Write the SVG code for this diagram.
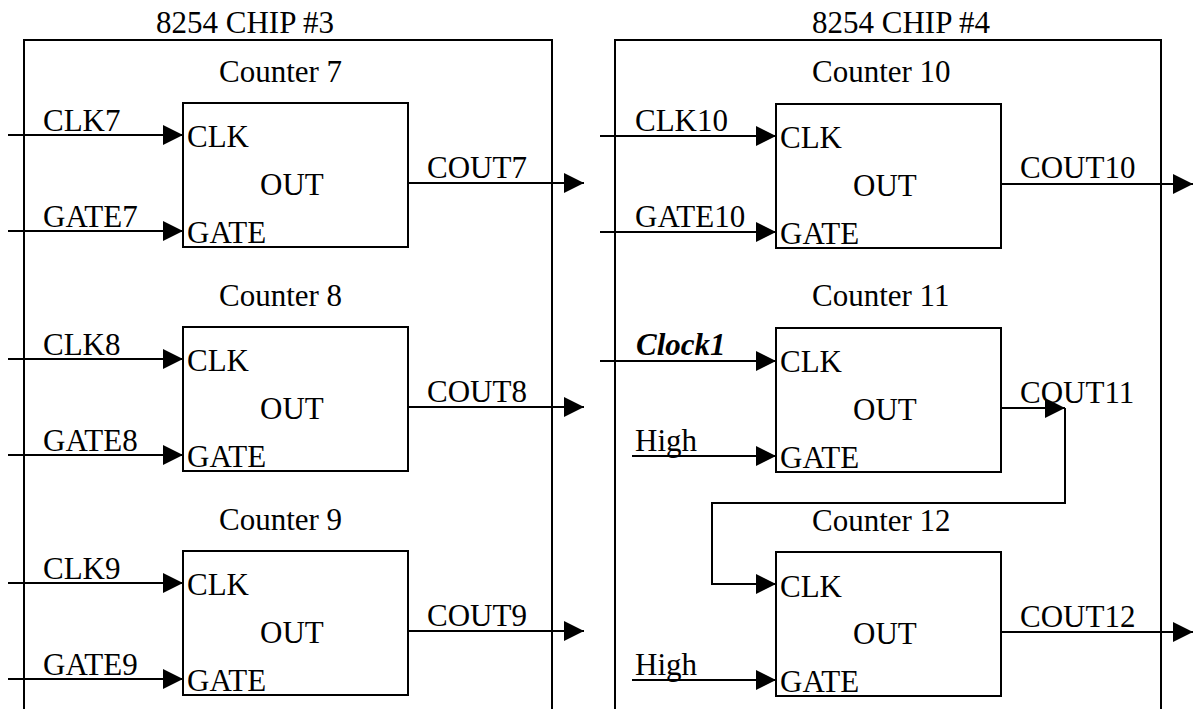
<svg xmlns="http://www.w3.org/2000/svg" width="1199" height="709" viewBox="0 0 1199 709">
<style>
text{font-family:"Liberation Serif","Times New Roman",serif;font-size:31px;fill:#000}
.chip{fill:none;stroke:#000;stroke-width:2}
.box{fill:#fff;stroke:#000;stroke-width:2}
.w{fill:none;stroke:#000;stroke-width:2;marker-end:url(#ah)}
.bi{font-weight:bold;font-style:italic}
</style>
<defs>
<marker id="ah" markerUnits="userSpaceOnUse" markerWidth="20" markerHeight="20" refX="20" refY="10" orient="auto">
<path d="M0,0 L20,10 L0,20 z" fill="#000"/>
</marker>
</defs>
<rect width="1199" height="709" fill="#fff"/>
<g id="chip3">
<path class="chip" d="M24,709 V40 H552 V709"/>
<text x="156" y="33">8254 CHIP #3</text>
</g>
<g id="chip4">
<path class="chip" d="M615,709 V40 H1161 V709"/>
<text x="812" y="33">8254 CHIP #4</text>
</g>
<g id="connectors">
<path class="w" d="M8,135 H183"/>
<path class="w" d="M8,231 H183"/>
<path class="w" d="M408,183 H584"/>
<path class="w" d="M8,359 H183"/>
<path class="w" d="M8,455 H183"/>
<path class="w" d="M408,407 H584"/>
<path class="w" d="M8,583 H183"/>
<path class="w" d="M8,679 H183"/>
<path class="w" d="M408,631 H584"/>
<path class="w" d="M600,136 H776"/>
<path class="w" d="M600,232 H776"/>
<path class="w" d="M1001,184 H1193"/>
<path class="w" d="M600,361 H776"/>
<path class="w" d="M632,456 H776"/>
<path class="w" d="M1001,408 H1065"/>
<path class="w" d="M1065,408 V503 H712 V584 H776"/>
<path class="w" d="M632,680 H776"/>
<path class="w" d="M1001,632 H1193"/>
</g>
<g id="counter7">
<text x="219" y="82">Counter 7</text>
<rect class="box" x="183" y="103" width="225" height="144"/>
<text x="187" y="147">CLK</text><text x="260" y="195">OUT</text><text x="187" y="243">GATE</text>
<text x="43" y="131">CLK7</text><text x="43" y="227">GATE7</text><text x="427" y="178">COUT7</text>
</g>
<g id="counter8">
<text x="219" y="306">Counter 8</text>
<rect class="box" x="183" y="327" width="225" height="144"/>
<text x="187" y="371">CLK</text><text x="260" y="419">OUT</text><text x="187" y="467">GATE</text>
<text x="43" y="355">CLK8</text><text x="43" y="451">GATE8</text><text x="427" y="402">COUT8</text>
</g>
<g id="counter9">
<text x="219" y="530">Counter 9</text>
<rect class="box" x="183" y="551" width="225" height="144"/>
<text x="187" y="595">CLK</text><text x="260" y="643">OUT</text><text x="187" y="691">GATE</text>
<text x="43" y="579">CLK9</text><text x="43" y="675">GATE9</text><text x="427" y="626">COUT9</text>
</g>
<g id="counter10">
<text x="812" y="82">Counter 10</text>
<rect class="box" x="776" y="104" width="225" height="144"/>
<text x="780" y="148">CLK</text><text x="853" y="196">OUT</text><text x="780" y="244">GATE</text>
<text x="635" y="131">CLK10</text><text x="635" y="227">GATE10</text><text x="1020" y="178">COUT10</text>
</g>
<g id="counter11">
<text x="812" y="306">Counter 11</text>
<rect class="box" x="776" y="328" width="225" height="144"/>
<text x="780" y="372">CLK</text><text x="853" y="420">OUT</text><text x="780" y="468">GATE</text>
<text class="bi" x="636" y="355">Clock1</text><text x="635" y="451">High</text><text x="1020" y="403">COUT11</text>
</g>
<g id="counter12">
<text x="812" y="531">Counter 12</text>
<rect class="box" x="776" y="552" width="225" height="144"/>
<text x="780" y="597">CLK</text><text x="853" y="644">OUT</text><text x="780" y="692">GATE</text>
<text x="635" y="675">High</text><text x="1020" y="627">COUT12</text>
</g>
</svg>
